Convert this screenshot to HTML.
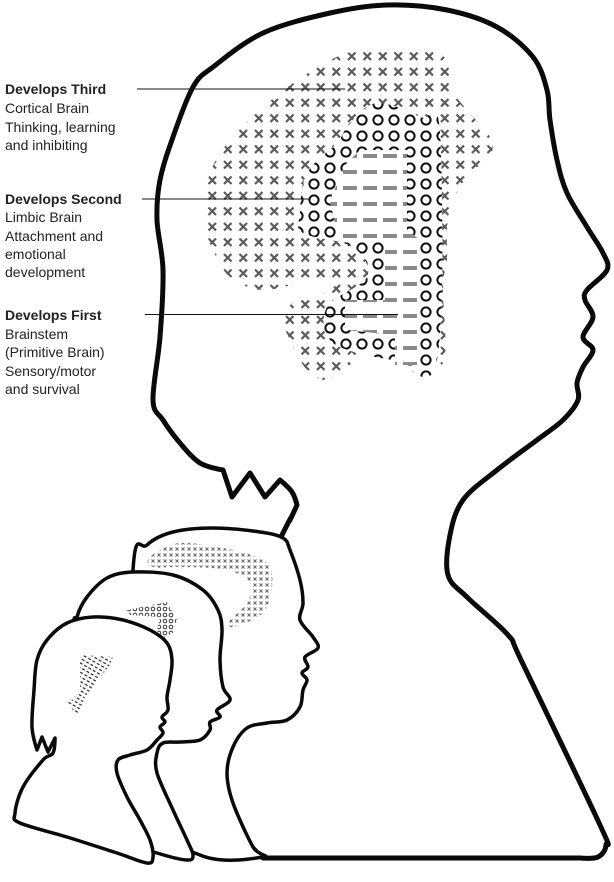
<!DOCTYPE html>
<html><head><meta charset="utf-8"><style>
html,body{margin:0;padding:0;background:#fff;}
svg{display:block;}
.t{font-family:"Liberation Sans",sans-serif;font-size:14px;fill:#222;}
.b{font-weight:bold;}
</style></head><body>
<svg id="s" width="614" height="882" viewBox="0 0 614 882" xmlns="http://www.w3.org/2000/svg">
<defs>
<pattern id="px" patternUnits="userSpaceOnUse" width="15.5" height="15.5" x="3" y="2">
<path d="M4 4L11.5 11.5M11.5 4L4 11.5" stroke="#5a5a5a" stroke-width="2.2"/>
</pattern>
<pattern id="po" patternUnits="userSpaceOnUse" width="16" height="16" x="2" y="0">
<circle cx="8" cy="8" r="4.6" fill="none" stroke="#111" stroke-width="2"/>
</pattern>
<pattern id="pd" patternUnits="userSpaceOnUse" width="20" height="16" x="0" y="4">
<line x1="3" y1="8" x2="17" y2="8" stroke="#8a8a8a" stroke-width="4"/>
</pattern>
<pattern id="sx" patternUnits="userSpaceOnUse" width="6" height="6">
<path d="M1.5 1.5L4.5 4.5M4.5 1.5L1.5 4.5" stroke="#666" stroke-width="1"/>
</pattern>
<pattern id="so" patternUnits="userSpaceOnUse" width="6" height="6">
<circle cx="3" cy="3" r="1.8" fill="none" stroke="#222" stroke-width="0.9"/>
</pattern>
<pattern id="sd" patternUnits="userSpaceOnUse" width="4" height="5" patternTransform="rotate(-60)">
<line x1="2" y1="0.5" x2="2" y2="3.5" stroke="#222" stroke-width="1.2"/>
</pattern>
</defs>

<path id="big" d="M270,858 L263,858 L232,815 L200,700 L282,535 L290,520 L297,505 L292,492 L280,480 L265,497 L250,473 L232,497 L223,470 L200,463 L180,443 L163,420 L153,400 L160,337 L163,270 L157,220 L160,180 L173,137 L193,87 L213,67 L263,33 L330,13 L387,5 L447,10 L497,27 L533,57 L547,90 L550,120 L557,160 L567,193 L587,227 L603,253 L607,270 L587,290 L585,300 L593,317 L583,337 L593,350 L583,367 L577,383 L578,400 L563,420 L537,440 L497,470 L463,500 L450,535 L448,575 L468,598 L508,635 L522,662 L600,825 L606,845 L598,857 L580,858 Z" fill="#fff" stroke="#0a0a0a" stroke-width="5" stroke-linejoin="round"/>

<path id="cx" d="M360,50 L430,50 L450,67 L450,87 L467,110 L490,137 L490,157 L470,173 L453,200 L447,227 L447,260 L443,287 L443,363 L407,367 L387,350 L377,337 L363,353 L347,367 L327,380 L307,370 L290,340 L283,317 L300,297 L323,293 L340,280 L313,280 L263,290 L230,277 L213,250 L203,217 L210,173 L230,140 L263,107 L313,70 Z" fill="url(#px)"/>
<path id="ow" d="M377,103 L420,117 L440,133 L437,360 L393,360 L333,343 L327,307 L367,277 L353,247 L303,233 L300,213 L307,173 L337,143 L350,123 Z" fill="#fff"/>
<path id="op" d="M377,103 L420,117 L440,133 L437,360 L393,360 L333,343 L327,307 L367,277 L353,247 L303,233 L300,213 L307,173 L337,143 L350,123 Z" fill="url(#po)"/>
<path d="M360,150 L407,150 L407,230 L420,240 L420,365 L395,365 L395,335 L345,330 L345,300 L385,300 L385,240 L338,240 L330,200 L345,165 Z" fill="#fff"/>
<path d="M360,150 L407,150 L407,230 L420,240 L420,365 L395,365 L395,335 L345,330 L345,300 L385,300 L385,240 L338,240 L330,200 L345,165 Z" fill="url(#pd)"/>

<line x1="137" y1="89" x2="345" y2="89" stroke="#111" stroke-width="1"/>
<line x1="142" y1="199" x2="310" y2="199" stroke="#111" stroke-width="1"/>
<line x1="145" y1="314.5" x2="398" y2="314.5" stroke="#111" stroke-width="1"/>

<path id="teen" d="M263,857 L200,855 L130,800 L133,570 L147,545 L173,532 L213,528 L260,532 L283,538 L290,550 L300,580 L303,603 L300,620 L313,637 L318,648 L305,657 L308,667 L302,673 L307,680 L303,690 L300,707 L287,720 L267,723 L247,728 L233,747 L227,773 L233,803 L253,847 Z" fill="#fff" stroke="#0a0a0a" stroke-width="3.5" stroke-linejoin="round"/>
<path id="tx" d="M150,557 L180,543 L233,550 L267,563 L272,587 L263,613 L233,627 L230,620 L247,603 L250,583 L227,570 L183,567 L153,567 Z" fill="url(#sx)"/>

<path id="mid" d="M187,860 L157,853 L90,830 L75,640 L77,617 L87,597 L107,578 L133,572 L173,575 L203,590 L218,610 L222,630 L220,660 L223,687 L230,700 L217,710 L220,717 L210,722 L210,730 L200,740 L180,742 L163,743 L157,753 L157,773 L173,810 L187,840 L193,855 Z" fill="#fff" stroke="#0a0a0a" stroke-width="3.5" stroke-linejoin="round"/>
<path d="M127,610 L167,602 L177,620 L173,633 L160,640 L157,630 L160,617 L130,615 Z" fill="url(#so)"/>

<path id="kid" d="M147,863 L117,853 L67,837 L20,823 L15,813 L23,787 L43,760 L53,753 L55,738 L48,752 L42,737 L37,750 L32,727 L34,690 L37,660 L47,640 L67,623 L93,617 L123,620 L150,630 L167,643 L172,660 L170,680 L167,697 L168,710 L162,717 L165,722 L160,727 L163,733 L157,740 L147,750 L130,755 L118,760 L117,773 L127,797 L140,820 L150,840 L153,857 Z" fill="#fff" stroke="#0a0a0a" stroke-width="3.5" stroke-linejoin="round"/>
<path d="M80,655 L113,657 L110,665 L85,697 L77,717 L65,697 L72,700 L80,690 Z" fill="url(#sd)"/>

<text class="t b" x="5" y="94">Develops Third</text>
<text class="t" x="5" y="113">Cortical Brain</text>
<text class="t" x="5" y="132">Thinking, learning</text>
<text class="t" x="5" y="150">and inhibiting</text>
<text class="t b" x="5" y="204">Develops Second</text>
<text class="t" x="5" y="222">Limbic Brain</text>
<text class="t" x="5" y="241">Attachment and</text>
<text class="t" x="5" y="259">emotional</text>
<text class="t" x="5" y="277">development</text>
<text class="t b" x="5" y="320">Develops First</text>
<text class="t" x="5" y="339">Brainstem</text>
<text class="t" x="5" y="357">(Primitive Brain)</text>
<text class="t" x="5" y="376">Sensory/motor</text>
<text class="t" x="5" y="394">and survival</text>
</svg>
<script>
(function(){
  var sharp={big:[[280,480],[265,497],[250,473],[232,497],[223,470],[297,505],[580,858],[270,858],[263,858]],kid:[[55,738],[48,752],[42,737],[37,750]]};
  ['big','cx','ow','op','teen','tx','mid','kid'].forEach(function(id){
    var el=document.getElementById(id); if(!el) return;
    var d=el.getAttribute('d');
    var nums=d.match(/-?\d+(\.\d+)?/g).map(Number);
    var p=[]; for(var i=0;i<nums.length;i+=2) p.push([nums[i],nums[i+1]]);
    var sh=sharp[id]||[];
    function isSharp(q){for(var k=0;k<sh.length;k++) if(sh[k][0]==q[0]&&sh[k][1]==q[1]) return true; return false;}
    var n=p.length, out='M'+p[0][0]+','+p[0][1];
    for(var i=0;i<n;i++){
      var p0=p[(i-1+n)%n],p1=p[i],p2=p[(i+1)%n],p3=p[(i+2)%n];
      var t=1/6;
      var c1=isSharp(p1)?p1:[p1[0]+(p2[0]-p0[0])*t,p1[1]+(p2[1]-p0[1])*t];
      var c2=isSharp(p2)?p2:[p2[0]-(p3[0]-p1[0])*t,p2[1]-(p3[1]-p1[1])*t];
      out+=' C'+c1[0].toFixed(1)+','+c1[1].toFixed(1)+' '+c2[0].toFixed(1)+','+c2[1].toFixed(1)+' '+p2[0]+','+p2[1];
    }
    el.setAttribute('d',out+'Z');
  });
})();
</script>
</body></html>
